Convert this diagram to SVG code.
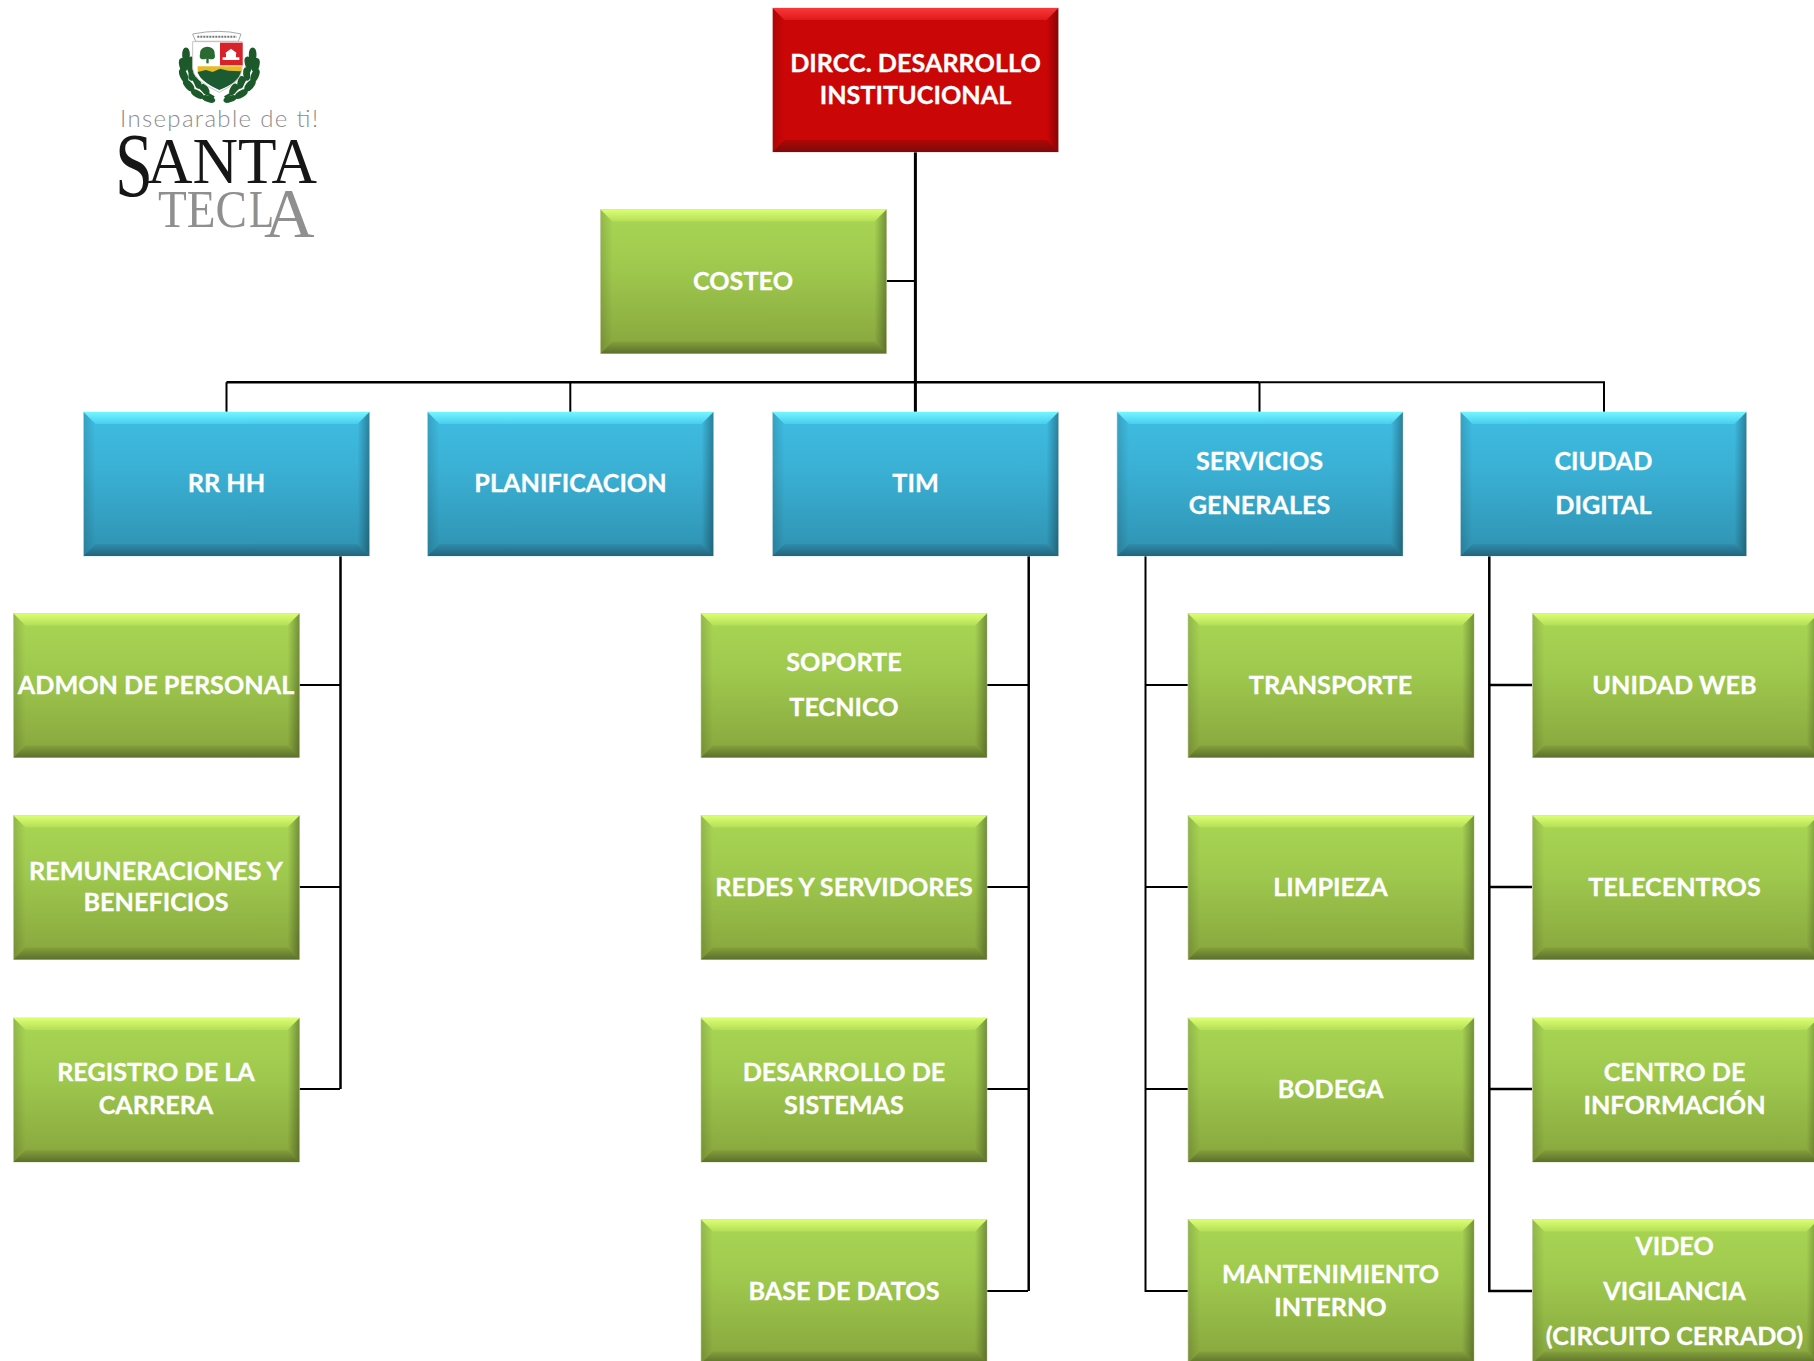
<svg xmlns="http://www.w3.org/2000/svg" xmlns:xlink="http://www.w3.org/1999/xlink" width="1814" height="1361" viewBox="0 0 1814 1361">
<style>
text.l{font-family:"Lato","Carlito","Liberation Sans",sans-serif;font-weight:700;font-size:25.2px;fill:#fff;stroke:#fff;stroke-width:.3;text-anchor:middle}
.c{fill:none;stroke:#000;stroke-width:2}
.t{stroke-width:3}
.m{stroke-width:2.5}
.lf{fill:#1c5a2c;stroke:#1c5a2c;stroke-width:7}
</style>
<defs>
<linearGradient id="gface" x1="0" y1="0" x2="0" y2="1"><stop offset="0" stop-color="#a9d654"/><stop offset=".4" stop-color="#9fc94e"/><stop offset="1" stop-color="#87a53d"/></linearGradient>
<linearGradient id="gtop" x1="0" y1="0" x2="0" y2="1"><stop offset="0" stop-color="#dcff72"/><stop offset="1" stop-color="#b4de58"/></linearGradient>
<linearGradient id="gbot" x1="0" y1="0" x2="0" y2="1"><stop offset="0" stop-color="#84a03b"/><stop offset="1" stop-color="#5b6f2c"/></linearGradient>
<linearGradient id="bface" x1="0" y1="0" x2="0" y2="1"><stop offset="0" stop-color="#3fbde3"/><stop offset=".4" stop-color="#3ab0d4"/><stop offset="1" stop-color="#2f92b1"/></linearGradient>
<linearGradient id="btop" x1="0" y1="0" x2="0" y2="1"><stop offset="0" stop-color="#74f6ff"/><stop offset="1" stop-color="#48cdef"/></linearGradient>
<linearGradient id="bbot" x1="0" y1="0" x2="0" y2="1"><stop offset="0" stop-color="#2e8cab"/><stop offset="1" stop-color="#23647b"/></linearGradient>
<linearGradient id="rtop" x1="0" y1="0" x2="0" y2="1"><stop offset="0" stop-color="#f8383a"/><stop offset="1" stop-color="#e01a1a"/></linearGradient>
<linearGradient id="rbot" x1="0" y1="0" x2="0" y2="1"><stop offset="0" stop-color="#b00606"/><stop offset="1" stop-color="#7c0a0a"/></linearGradient>
<linearGradient id="sl" x1="0" y1="0" x2="1" y2="0"><stop offset="0" stop-color="#000" stop-opacity=".14"/><stop offset="1" stop-color="#000" stop-opacity="0"/></linearGradient>
<linearGradient id="sr" x1="0" y1="0" x2="1" y2="0"><stop offset="0" stop-color="#000" stop-opacity="0"/><stop offset="1" stop-color="#000" stop-opacity=".32"/></linearGradient>
<g id="sides">
<polygon points="0,0 12,12 12,132 0,144" fill="url(#sl)"/>
<polygon points="286,0 274,12 274,132 286,144" fill="url(#sr)"/>
</g>
<g id="box-green">
<rect width="286" height="144" fill="url(#gface)" stroke="#cfdca8" stroke-width=".8"/>
<polygon points="0,0 286,0 274,12 12,12" fill="url(#gtop)"/>
<polygon points="0,144 286,144 274,132 12,132" fill="url(#gbot)"/>
<use href="#sides"/>
</g>
<g id="box-blue">
<rect width="286" height="144" fill="url(#bface)" stroke="#c4e4ee" stroke-width=".8"/>
<polygon points="0,0 286,0 274,12 12,12" fill="url(#btop)"/>
<polygon points="0,144 286,144 274,132 12,132" fill="url(#bbot)"/>
<use href="#sides"/>
</g>
<g id="box-red">
<rect width="286" height="144" fill="#cb0606" stroke="#f0c8c8" stroke-width=".8"/>
<polygon points="0,0 286,0 274,12 12,12" fill="url(#rtop)"/>
<polygon points="0,144 286,144 274,132 12,132" fill="url(#rbot)"/>
<use href="#sides"/>
</g>
<filter id="soft" x="-5%" y="-5%" width="110%" height="110%"><feGaussianBlur stdDeviation="1.2"/></filter>
<g id="branch">
<path d="M372 292C330 270 292 240 284 150" fill="none" stroke="#1c5a2c" stroke-width="8"/>
<ellipse class="lf" cx="288" cy="165" rx="8" ry="19"/>
<ellipse class="lf" cx="279" cy="195" rx="8" ry="18" transform="rotate(-12 279 195)"/>
<ellipse class="lf" cx="301" cy="190" rx="7" ry="17" transform="rotate(14 301 190)"/>
<ellipse class="lf" cx="281" cy="226" rx="8" ry="18" transform="rotate(-24 281 226)"/>
<ellipse class="lf" cx="306" cy="222" rx="7" ry="17" transform="rotate(5 306 222)"/>
<ellipse class="lf" cx="296" cy="256" rx="8" ry="18" transform="rotate(-42 296 256)"/>
<ellipse class="lf" cx="323" cy="247" rx="7" ry="16" transform="rotate(-12 323 247)"/>
<ellipse class="lf" cx="322" cy="282" rx="7" ry="18" transform="rotate(-58 322 282)"/>
<ellipse class="lf" cx="345" cy="268" rx="7" ry="15" transform="rotate(-30 345 268)"/>
<ellipse class="lf" cx="356" cy="297" rx="6" ry="17" transform="rotate(-72 356 297)"/>
</g>
</defs>
<rect width="1814" height="1361" fill="#fff"/>

<g id="logo">
<g transform="translate(90 0) scale(.33333)" filter="url(#soft)">
<use href="#branch"/>
<use href="#branch" transform="translate(776 0) scale(-1 1)"/>
<path d="M308 102q80 -16 145 0l-8 22h-128z" fill="#fff" stroke="#a8a8a8" stroke-width="3"/>
<path d="M322 110h118" stroke="#777" stroke-width="6" stroke-dasharray="6 3" fill="none"/>
<path d="M308 125h148v80q0 40 -68 72q-80 -36 -80 -72z" fill="#fff" stroke="#c4c4c4" stroke-width="3"/>
<rect x="390" y="128" width="68" height="68" fill="#d8232c"/>
<path d="M398 172h50v8h-50zM405 160l18 -14 18 14zM408 160h30v12h-30z" fill="#fff"/>
<ellipse cx="352" cy="158" rx="22" ry="18" fill="#2a6a32"/>
<ellipse cx="340" cy="168" rx="11" ry="10" fill="#2a6a32"/>
<ellipse cx="364" cy="168" rx="11" ry="10" fill="#2a6a32"/>
<rect x="349" y="170" width="7" height="20" fill="#2a6a32"/>
<path d="M323 199h132v14l-8 8h-124z" fill="#e6bc26"/>
<path d="M323 216l25 -6 20 6 22 -10 25 6 38 2q-6 34 -65 56q-58 -26 -65 -54z" fill="#1f5a30"/>
</g>
<text x="120" y="127" font-family="Lato,sans-serif" font-weight="300" font-size="24" fill="#8c8c8c" textLength="198" lengthAdjust="spacing">Inseparable de ti!</text>
<text font-family="'Liberation Serif',serif" fill="#161616"><tspan x="115" y="196" font-size="92" textLength="38" lengthAdjust="spacingAndGlyphs">S</tspan><tspan x="147" y="183" font-size="66" textLength="170" lengthAdjust="spacingAndGlyphs">ANTA</tspan></text>
<text font-family="'Liberation Serif',serif" fill="#8f8f8f"><tspan x="158" y="226.5" font-size="52" textLength="89" lengthAdjust="spacingAndGlyphs">TEC</tspan><tspan x="249" y="226.5" font-size="52" textLength="25" lengthAdjust="spacingAndGlyphs">L</tspan><tspan x="264" y="237" font-size="70">A</tspan></text>
</g>

<g id="connectors">
<path class="c t" d="M915.4 151V412"/>
<path class="c" d="M887 281H915"/>
<path class="c m" d="M226.5 382.3H1259.5"/>
<path class="c" d="M226.5 412V382.3M1259.5 382.3H1604V412M570.3 382.3V412M1259.5 382.3V412"/>
<path class="c m" d="M340.5 555V1089"/>
<path class="c" d="M299 685H340M299 887H340M299 1089H340"/>
<path class="c m" d="M1028.7 555V1291"/>
<path class="c" d="M987 685H1028M987 887H1028M987 1089H1028M987 1291H1028"/>
<path class="c" d="M1145.5 555V1291H1188M1145.5 685H1188M1145.5 887H1188M1145.5 1089H1188"/>
<path class="c m" d="M1489.3 555V1291H1532M1489.3 685H1532M1489.3 887H1532M1489.3 1089H1532"/>
</g>

<g id="n-dircc"><use href="#box-red" x="772.5" y="8"/><text class="l" x="915.5" y="71.5">DIRCC. DESARROLLO</text><text class="l" x="915.5" y="104">INSTITUCIONAL</text></g>
<g id="n-costeo"><use href="#box-green" x="600.5" y="209.5"/><text class="l" x="743" y="289.5">COSTEO</text></g>

<g id="n-rrhh"><use href="#box-blue" x="83.5" y="412"/><text class="l" x="226.5" y="492">RR HH</text></g>
<g id="n-planificacion"><use href="#box-blue" x="427.5" y="412"/><text class="l" x="570.5" y="492">PLANIFICACION</text></g>
<g id="n-tim"><use href="#box-blue" x="772.5" y="412"/><text class="l" x="915.5" y="492">TIM</text></g>
<g id="n-servicios"><use href="#box-blue" x="1117" y="412"/><text class="l" x="1259.5" y="469.5">SERVICIOS</text><text class="l" x="1259.5" y="513.5">GENERALES</text></g>
<g id="n-ciudad"><use href="#box-blue" x="1460.5" y="412"/><text class="l" x="1603.5" y="469.5">CIUDAD</text><text class="l" x="1603.5" y="513.5">DIGITAL</text></g>

<g id="n-admon"><use href="#box-green" x="13.5" y="613.5"/><text class="l" x="156" y="693.5">ADMON DE PERSONAL</text></g>
<g id="n-remuneraciones"><use href="#box-green" x="13.5" y="815.5"/><text class="l" x="156" y="880">REMUNERACIONES Y</text><text class="l" x="156" y="911">BENEFICIOS</text></g>
<g id="n-registro"><use href="#box-green" x="13.5" y="1018"/><text class="l" x="156" y="1081">REGISTRO DE LA</text><text class="l" x="156" y="1113.5">CARRERA</text></g>

<g id="n-soporte"><use href="#box-green" x="701" y="613.5"/><text class="l" x="844" y="670.5">SOPORTE</text><text class="l" x="844" y="716">TECNICO</text></g>
<g id="n-redes"><use href="#box-green" x="701" y="815.5"/><text class="l" x="844" y="895.5">REDES Y SERVIDORES</text></g>
<g id="n-desarrollo"><use href="#box-green" x="701" y="1018"/><text class="l" x="844" y="1081">DESARROLLO DE</text><text class="l" x="844" y="1113.5">SISTEMAS</text></g>
<g id="n-basedatos"><use href="#box-green" x="701" y="1219.5"/><text class="l" x="844" y="1299.5">BASE DE DATOS</text></g>

<g id="n-transporte"><use href="#box-green" x="1188" y="613.5"/><text class="l" x="1330.5" y="693.5">TRANSPORTE</text></g>
<g id="n-limpieza"><use href="#box-green" x="1188" y="815.5"/><text class="l" x="1330.5" y="895.5">LIMPIEZA</text></g>
<g id="n-bodega"><use href="#box-green" x="1188" y="1018"/><text class="l" x="1330.5" y="1097.5">BODEGA</text></g>
<g id="n-mantenimiento"><use href="#box-green" x="1188" y="1219.5"/><text class="l" x="1330.5" y="1282.5">MANTENIMIENTO</text><text class="l" x="1330.5" y="1315.5">INTERNO</text></g>

<g id="n-web"><use href="#box-green" x="1532.5" y="613.5"/><text class="l" x="1674.5" y="693.5">UNIDAD WEB</text></g>
<g id="n-telecentros"><use href="#box-green" x="1532.5" y="815.5"/><text class="l" x="1674.5" y="895.5">TELECENTROS</text></g>
<g id="n-centro"><use href="#box-green" x="1532.5" y="1018"/><text class="l" x="1674.5" y="1081">CENTRO DE</text><text class="l" x="1674.5" y="1113.5">INFORMACIÓN</text></g>
<g id="n-video"><use href="#box-green" x="1532.5" y="1219.5"/><text class="l" x="1674.5" y="1255">VIDEO</text><text class="l" x="1674.5" y="1300">VIGILANCIA</text><text class="l" x="1674.5" y="1344.5">(CIRCUITO CERRADO)</text></g>
</svg>
